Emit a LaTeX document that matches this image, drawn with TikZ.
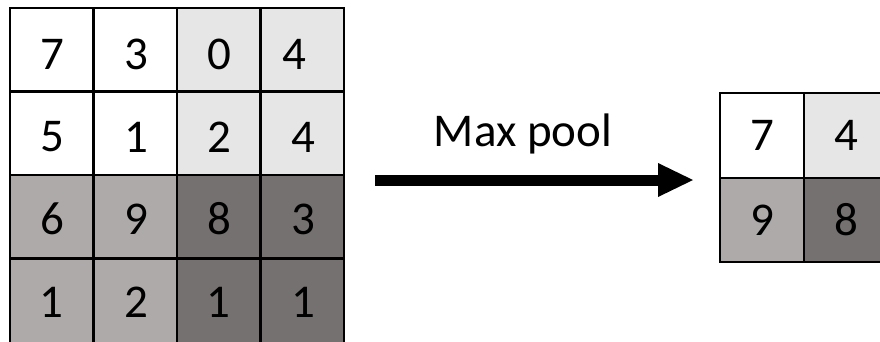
\documentclass[tikz,border=0pt]{standalone}
\usepackage{fontspec}
\setmainfont{Carlito}
\usetikzlibrary{arrows.meta}
\definecolor{cL}{HTML}{E7E6E6}
\definecolor{cM}{HTML}{AEAAAA}
\definecolor{cD}{HTML}{767171}
\tikzset{
  cellbox/.style={draw=black, line width=2.5pt, inner sep=0pt},
  digit/.style={font=\fontsize{47}{50}\selectfont, inner sep=0pt, anchor=center},
  lbl/.style={font=\fontsize{47}{50}\selectfont, inner sep=0pt, anchor=base},
}
\begin{document}
\begin{tikzpicture}[x=1pt,y=-1pt]
\useasboundingbox (0,0) rectangle (880,341);
% left grid: columns x edges 10,93.5,177,260.5,344 ; rows y edges 8,91.5,175,258.5,348
\foreach \r/\ya/\yb in {1/8/91.5,2/91.5/175,3/175/258.5,4/258.5/348}{
  \foreach \c/\xa/\xb in {1/10/93.5,2/93.5/177,3/177/260.5,4/260.5/344}{
    \pgfmathtruncatemacro{\bi}{(\r>2)*2+(\c>2)}
    \ifcase\bi
      \def\fc{white}\or\def\fc{cL}\or\def\fc{cM}\or\def\fc{cD}\fi
    \path[cellbox, fill=\fc] (\xa,\ya) rectangle (\xb,\yb);
  }
}
\foreach \r/\c/\v/\x/\y in {1/1/7/52/54,1/2/3/136/54,1/3/0/219/54,1/4/4/294/54,
                          2/1/5/52/137,2/2/1/136/137,2/3/2/219/137,2/4/4/303/137,
                          3/1/6/52/219,3/2/9/136/219,3/3/8/219/219,3/4/3/303/219,
                          4/1/1/51/302,4/2/2/136/302,4/3/1/218/302,4/4/1/303/302}{
  \node[digit] (dL\r\c) at (\x,\y) {\v};
}
% right grid
\path[cellbox, fill=white] (720,93) rectangle (804,178);
\path[cellbox, fill=cL]    (804,93) rectangle (895,178);
\path[cellbox, fill=cM]    (720,178) rectangle (804,262);
\path[cellbox, fill=cD]    (804,178) rectangle (895,262);
\foreach \r/\c/\v/\x/\y in {1/1/7/762/135,1/2/4/846/135,2/1/9/762/220,2/2/8/846/220}{
  \node[digit] (dR\r\c) at (\x,\y) {\v};
}
% arrow
\coordinate (a0) at (375,180);
\coordinate (a1) at (693,180);
\draw[line width=11pt, -{Triangle[length=35pt,width=34pt,line width=0pt]}] (a0) -- (a1);
\node[lbl] (mp) at (523,146) {Max pool};
\end{tikzpicture}
\end{document}
